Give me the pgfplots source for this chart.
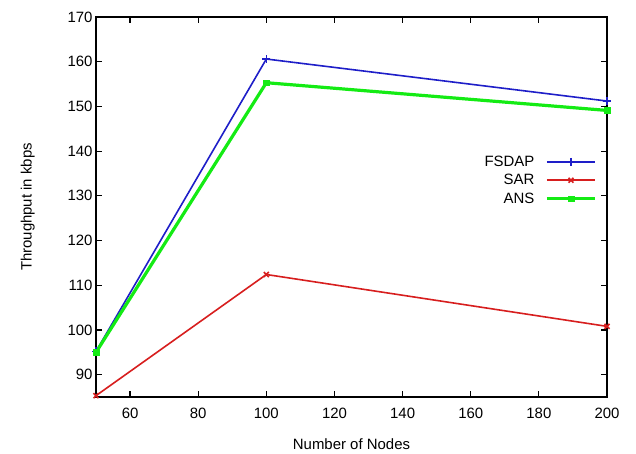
\documentclass[border=0pt]{standalone}
\usepackage{pgfplots}
\pgfplotsset{compat=1.18}
\usepackage{fontspec}
\setmainfont{Liberation Sans}
\definecolor{gpblue}{RGB}{30,30,200}
\definecolor{gpred}{RGB}{215,30,30}
\definecolor{gpgreen}{RGB}{20,235,20}
\begin{document}
\begin{tikzpicture}[x=1bp,y=1bp]
\path (0,0) rectangle (636,453);
\begin{axis}[
  at={(96bp,56bp)}, anchor=south west,
  scale only axis, width=511bp, height=380bp,
  xmin=50, xmax=200, ymin=85, ymax=170,
  xtick={60,80,...,200}, ytick={90,100,...,170},
  tick align=inside, tick pos=both,
  major tick length=6bp,
  major tick style={line width=1.2bp, black},
  /pgf/number format/assume math mode=true,
  tick label style={font=\fontsize{15}{17}\selectfont},
  xticklabel style={yshift=-8bp},
  label style={font=\fontsize{15}{17}\selectfont},
  xlabel={Number of Nodes}, ylabel={Throughput in kbps},
  xlabel style={yshift=-13bp},
  ylabel style={yshift=26bp},
  axis line style={line width=1.5bp},
  legend style={draw=none, fill=none, at={(axis cs:197,139.2)}, anchor=north east,
    font=\fontsize{15}{17}\selectfont, row sep=4.5bp, inner sep=0bp,
    nodes={inner sep=1bp}},
  legend cell align=right,
  legend plot pos=right,
  legend image code/.code={\path (0bp,0bp); \draw[mark repeat=2,mark phase=2] plot coordinates {(10bp,0bp) (34bp,0bp) (58bp,0bp)};},
]
\addplot[color=gpblue, line width=1.6bp, mark=+, mark size=4bp, mark options={line width=1.4bp}] coordinates {(50,95.2) (100,160.6) (200,151.2)};
\addlegendentry{FSDAP}
\addplot[color=gpred, line width=1.6bp, mark=x, mark size=3.5bp, mark options={line width=1.6bp}] coordinates {(50,85.3) (100,112.4) (200,100.8)};
\addlegendentry{SAR}
\addplot[color=gpgreen, line width=3.2bp, mark=square*, mark size=2.8bp, mark options={line width=0.5bp}] coordinates {(50,95.0) (100,155.3) (200,149.1)};
\addlegendentry{ANS}
\end{axis}
\end{tikzpicture}
\end{document}
